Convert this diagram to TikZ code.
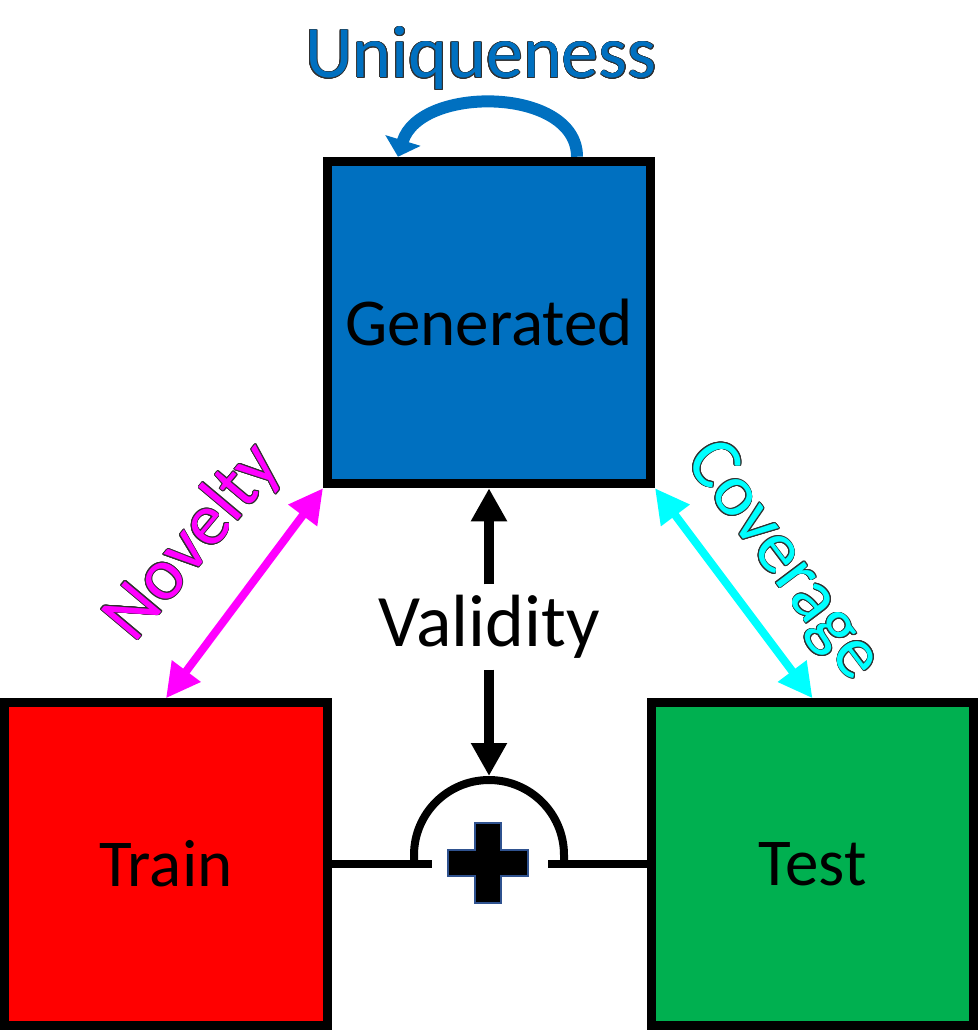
\documentclass[tikz,border=0pt]{standalone}
\usepackage{fontspec}
\setmainfont{Carlito}
\usepackage{contour}
\usetikzlibrary{arrows.meta, calc, positioning}
\definecolor{genblue}{HTML}{0070C0}
\definecolor{trainred}{HTML}{FF0000}
\definecolor{testgreen}{HTML}{00B050}
\definecolor{novmagenta}{HTML}{FF00FF}
\definecolor{covcyan}{HTML}{00FFFF}
\definecolor{plusedge}{HTML}{2F528F}
\definecolor{outlinegray}{HTML}{303030}
\contourlength{0.8pt}

\begin{document}
\begin{tikzpicture}[x=1pt, y=-1pt,
  setbox/.style={draw=black, line width=9pt, minimum width=323pt, minimum height=322.5pt,
    inner sep=0pt, font=\fontsize{67}{80}\selectfont},
  metric/.style={font=\fontsize{74}{88}\selectfont},
  twoway/.style={line width=8pt, {Triangle[length=34pt,width=34pt]}-{Triangle[length=34pt,width=34pt]}},
  oneway/.style={line width=10pt, -{Triangle[length=33pt,width=34pt]}},
  joinline/.style={line width=8pt}]
\useasboundingbox (0,0) rectangle (978,1030);

% the three sets
\node[setbox, fill=genblue] (gen) at (489,322.5) {Generated};
\node[setbox, fill=trainred] (train) at (166,864) {Train};
\node[setbox, fill=testgreen, minimum width=322pt] (test) at (812.5,864) {Test};

% uniqueness loop on top
\node[metric, text=genblue, anchor=base] (uniq) at (481,78) {\contour{outlinegray}{Uniqueness}};
\draw[genblue, line width=12pt, -{Triangle[length=17pt,width=36pt]}]
  ([xshift=-78pt]gen.north east) .. controls +(0,-70) and +(22,-72) .. ([xshift=75pt]gen.north west);

% validity against train + test
\node[metric, inner sep=0pt, minimum height=85pt] (valid) at (489,627) {Validity};
\coordinate (plustop) at (489,776);
\draw[oneway] (valid.north) -- (gen.south);
\draw[oneway] (valid.south) -- (plustop);

% joining train and test
\coordinate (joinL) at (432,864);
\coordinate (joinR) at (548,864);
\draw[joinline] (train.east) -- (joinL);
\draw[joinline] (joinR) -- (test.west);
\draw[joinline] (414,864) -- (414,855) arc[start angle=180, end angle=360, radius=75] -- (564,864);
\draw[fill=black, draw=plusedge, line width=1.5pt]
  (475,823) -- (501,823) -- (501,850) -- (528,850) -- (528,876) -- (501,876) -- (501,903)
  -- (475,903) -- (475,876) -- (448,876) -- (448,850) -- (475,850) -- cycle;

% novelty and coverage
\draw[twoway, novmagenta] (train.north) -- (gen.south west);
\node[metric, text=novmagenta, rotate=50] (nov) at (194,543) {\contour{outlinegray}{Novelty}};
\draw[twoway, covcyan] (gen.south east) -- (test.north);
\node[metric, text=covcyan, rotate=-53] (cov) at (782,562) {\contour{outlinegray}{Coverage}};
\end{tikzpicture}
\end{document}
